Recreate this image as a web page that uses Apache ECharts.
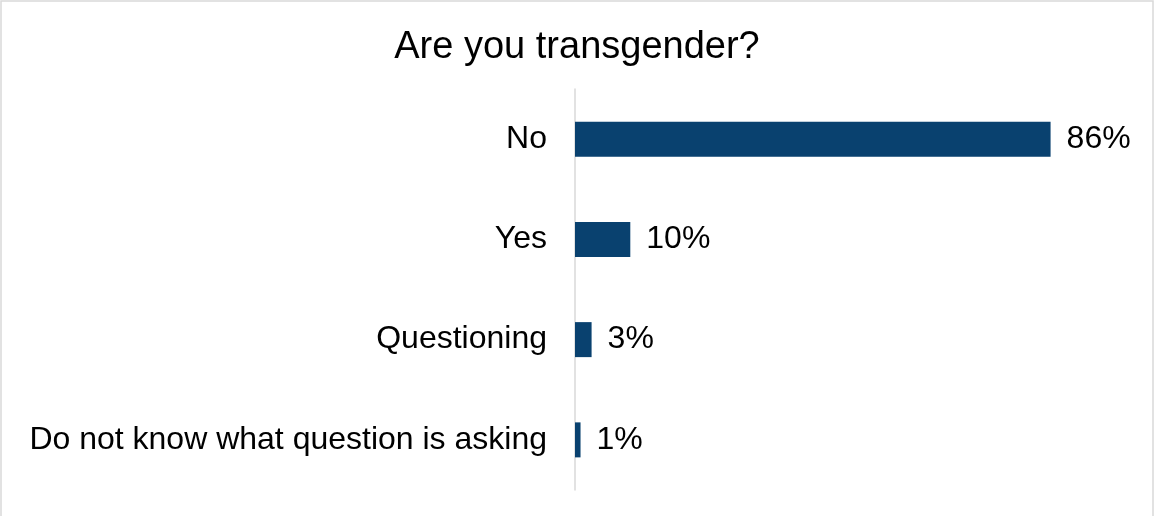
<!DOCTYPE html>
<html>
<head>
<meta charset="utf-8">
<script src="https://cdn.jsdelivr.net/npm/echarts@6/dist/echarts.min.js"></script>
<style>
  html, body { margin: 0; padding: 0; background: #fff; }
  #chart { width: 1154px; height: 516px; }
</style>
</head>
<body>
<div id="chart"></div>
<script>
// Survey answers and their shares (percent)
const categories = ['No', 'Yes', 'Questioning', 'Do not know what question is asking'];
const shares = [86, 10, 3, 1];
const chartTitle = 'Are you transgender?';

const FONT = '"Liberation Sans", Arial, sans-serif';
const BAR_COLOR = '#09416f';

const chart = echarts.init(document.getElementById('chart'), null, { renderer: 'canvas' });

chart.setOption({
  backgroundColor: '#ffffff',
  animation: false,
  title: {
    text: chartTitle,
    left: 'center',
    top: 24,
    textStyle: { fontFamily: FONT, fontSize: 38, fontWeight: 'normal', color: '#000000' }
  },
  graphic: [{
    type: 'rect',
    silent: true,
    shape: { x: 1, y: 1, width: 1152, height: 530 },
    style: { fill: 'none', stroke: '#d9d9d9', lineWidth: 1.5 }
  }],
  grid: { left: 575, right: 26, top: 89, bottom: 26, containLabel: false },
  xAxis: {
    type: 'value',
    min: 0,
    max: 100,
    show: false
  },
  yAxis: {
    type: 'category',
    data: categories,
    inverse: true,
    axisLine: { show: true, lineStyle: { color: '#d9d9d9', width: 1.5 } },
    axisTick: { show: false },
    axisLabel: { fontFamily: FONT, fontSize: 32, color: '#000000', margin: 28 }
  },
  series: [{
    type: 'bar',
    data: shares,
    barWidth: 35,
    itemStyle: { color: BAR_COLOR },
    label: {
      show: true,
      position: 'right',
      distance: 16,
      formatter: '{c}%',
      fontFamily: FONT,
      fontSize: 32,
      color: '#000000'
    }
  }]
});
</script>
</body>
</html>
